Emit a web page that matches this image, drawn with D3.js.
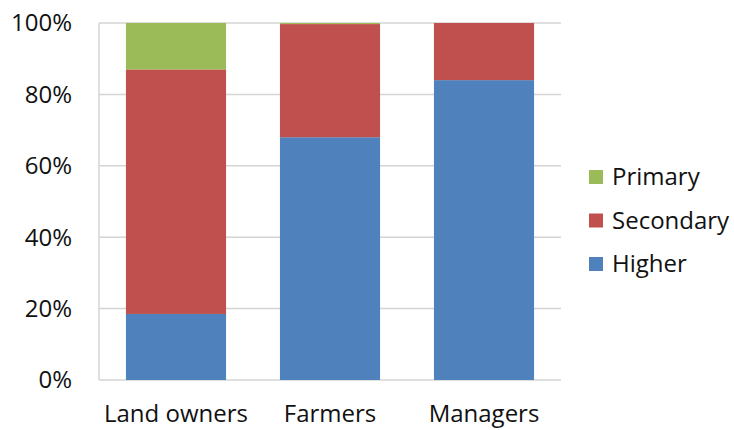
<!DOCTYPE html>
<html>
<head>
<meta charset="utf-8">
<script src="https://cdn.jsdelivr.net/npm/d3@7"></script>
<style>
  body { margin: 0; background: #fff; }
  text { font-family: "Open Sans", sans-serif; fill: #111; }
</style>
</head>
<body>
<svg width="734" height="430"></svg>
<script>
var categories = ["Land owners", "Farmers", "Managers"];
var seriesNames = ["Higher", "Secondary", "Primary"];
var higher = [18.5, 68, 84];
var secondary = [68.5, 31.7, 16];
var primary = [13, 0.3, 0];
var yTicks = [0, 20, 40, 60, 80, 100];
var colors = { Higher: "#4F81BD", Secondary: "#C0504D", Primary: "#9BBB59" };

var svg = d3.select("svg");
var margin = { left: 99, top: 23, right: 173, bottom: 50 };
var width = 734 - margin.left - margin.right,
    height = 430 - margin.top - margin.bottom;

var rows = categories.map(function (c, i) {
    return { cat: c, Higher: higher[i], Secondary: secondary[i], Primary: primary[i] };
});
var stacked = d3.stack().keys(seriesNames)(rows);

var x = d3.scaleBand().domain(categories).range([0, width]).paddingInner(0.35).paddingOuter(0.175);
var y = d3.scaleLinear().domain([0, 100]).range([height, 0]);

var g = svg.append("g").attr("transform", "translate(" + margin.left + "," + margin.top + ")");

// gridlines
g.append("g")
    .selectAll("line")
    .data(yTicks)
    .enter().append("line")
    .attr("x1", 0).attr("x2", width)
    .attr("y1", d => y(d)).attr("y2", d => y(d))
    .attr("stroke", "#d4d4d4").attr("stroke-width", 1.5);

g.append("line")
    .attr("x1", 0).attr("x2", 0).attr("y1", 0).attr("y2", height)
    .attr("stroke", "#d4d4d4").attr("stroke-width", 1.5);

// bars
g.append("g")
    .selectAll("g")
    .data(stacked)
    .enter().append("g")
    .attr("fill", d => colors[d.key])
    .selectAll("rect")
    .data(d => d)
    .enter().append("rect")
    .attr("x", d => x(d.data.cat))
    .attr("width", x.bandwidth())
    .attr("y", d => y(d[1]))
    .attr("height", d => y(d[0]) - y(d[1]));

// y axis labels
g.append("g")
    .selectAll("text")
    .data(yTicks)
    .enter().append("text")
    .attr("x", -27)
    .attr("y", d => y(d))
    .attr("dy", "0.35em")
    .attr("text-anchor", "end")
    .style("font-size", "24px")
    .text(d => d + "%");

// x axis labels
g.append("g")
    .selectAll("text")
    .data(categories)
    .enter().append("text")
    .attr("x", d => x(d) + x.bandwidth() / 2)
    .attr("y", height + 42)
    .attr("text-anchor", "middle")
    .style("font-size", "24px")
    .text(d => d);

// legend
var legend = svg.append("g").attr("transform", "translate(589,170)");
var legItems = ["Primary", "Secondary", "Higher"];
var item = legend.selectAll("g")
    .data(legItems)
    .enter().append("g")
    .attr("transform", (d, i) => "translate(0," + (i * 43.5) + ")");
item.append("rect")
    .attr("width", 14).attr("height", 14)
    .attr("fill", d => colors[d]);
item.append("text")
    .attr("x", 23)
    .attr("y", 7)
    .attr("dy", "0.35em")
    .style("font-size", "24px")
    .text(d => d);
</script>
</body>
</html>
